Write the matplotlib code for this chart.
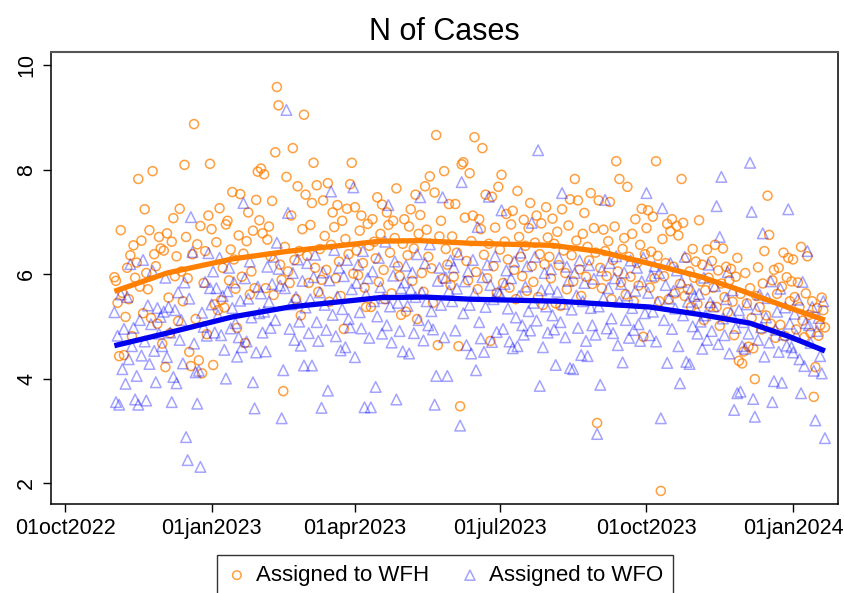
import matplotlib
matplotlib.use("Agg")
import matplotlib.pyplot as plt
import pandas as pd

plt.rcParams['font.family'] = ['Liberation Sans', 'DejaVu Sans']

# daily series, first day 01nov2022
start_day = "2022-11-01"

wfh = [
    # Nov 2022
    5.94, 5.87, 5.45, 4.43, 6.84, 5.64, 4.45, 5.18, 6.12, 5.52, 6.36, 4.81, 6.55, 5.93, 6.22, 7.82, 5.76, 6.64, 5.25, 7.24,
    6.02, 5.71, 6.84, 5.16, 7.97, 6.38, 6.15, 5.05, 6.71, 6.49,
    # Dec 2022
    4.67, 6.45, 4.22, 6.78, 5.55, 4.87, 6.62, 7.07, 5.96, 6.34, 5.10, 7.25, 6.05, 5.48, 8.09, 6.71, 5.92, 4.51, 4.24, 6.38,
    8.87, 5.14, 6.57, 4.35, 6.92, 4.10, 5.83, 6.44, 4.85, 7.12, 8.11,
    # Jan 2023
    6.86, 4.26, 5.42, 6.61, 5.31, 7.26, 5.50, 6.12, 5.36, 6.95, 7.02, 5.88, 6.47, 7.57, 6.28, 5.72, 4.97, 6.74, 7.53, 5.95,
    6.39, 4.68, 6.63, 7.18, 5.61, 6.05, 6.83, 5.73, 7.42, 7.96, 7.03,
    # Feb 2023
    8.02, 6.78, 7.91, 5.73, 6.66, 6.91, 6.34, 7.40, 5.60, 8.33, 9.58, 9.23, 6.18, 5.89, 3.76, 6.52, 7.86, 6.05, 5.83, 7.12,
    8.41, 6.27, 5.52, 7.68, 6.44, 5.21, 6.86, 9.05,
    # Mar 2023
    7.52, 6.35, 5.83, 6.94, 7.36, 8.13, 6.12, 7.70, 5.66, 6.48, 5.89, 7.41, 6.73, 6.08, 7.74, 5.47, 6.56, 7.18, 6.90, 5.92,
    7.32, 6.24, 5.58, 7.02, 4.95, 6.67, 7.25, 6.38, 7.72, 8.13, 6.01,
    # Apr 2023
    7.28, 6.45, 5.98, 6.83, 7.12, 6.21, 5.74, 5.37, 6.96, 6.54, 5.37, 7.05, 6.62, 6.30, 7.47, 5.85, 6.77, 7.33, 6.08, 5.52,
    7.18, 6.94, 6.41, 5.63, 7.02, 6.69, 7.64, 6.15, 5.96, 5.22,
    # May 2023
    6.58, 7.05, 5.28, 6.36, 6.91, 7.24, 5.87, 6.49, 7.52, 5.14, 6.77, 7.13, 6.02, 5.66, 7.68, 6.85, 6.33, 7.87, 6.11, 5.45,
    7.56, 8.66, 4.64, 6.72, 7.02, 5.91, 7.97, 6.48, 6.18, 7.34, 5.79,
    # Jun 2023
    6.72, 5.95, 7.34, 6.41, 4.62, 3.47, 8.10, 8.14, 7.08, 6.25, 5.88, 7.93, 6.63, 7.12, 8.62, 6.04, 5.71, 7.05, 6.86, 8.41,
    6.37, 7.52, 5.92, 6.58, 4.72, 7.48, 6.15, 6.89, 5.64, 7.67,
    # Jul 2023
    6.47, 7.90, 5.83, 6.62, 7.15, 6.28, 5.74, 6.95, 7.21, 6.08, 5.52, 7.59, 6.71, 6.33, 5.96, 7.04, 6.54, 5.68, 6.88, 7.36,
    6.15, 5.85, 6.60, 7.12, 5.56, 6.38, 6.97, 5.41, 6.19, 7.28, 6.70,
    # Aug 2023
    6.33, 5.92, 7.06, 6.58, 5.44, 6.81, 6.17, 5.39, 7.24, 6.45, 6.02, 5.71, 6.93, 7.43, 6.36, 5.86, 7.82, 6.64, 7.41, 6.09,
    5.58, 6.77, 7.17, 5.95, 6.52, 6.26, 7.55, 5.81, 6.88, 6.41, 3.15,
    # Sep 2023
    7.41, 6.12, 5.73, 6.85, 6.44, 5.96, 6.63, 7.38, 5.52, 6.27, 6.91, 8.16, 6.05, 7.82, 5.84, 6.48, 6.69, 5.61, 7.67, 6.33,
    5.95, 6.77, 5.48, 7.05, 6.21, 5.78, 6.56, 7.25, 4.80, 6.38,
    # Oct 2023
    6.88, 7.22, 5.74, 6.43, 7.10, 5.92, 8.16, 6.35, 5.48, 1.85, 6.67, 5.96, 6.21, 6.96, 5.52, 6.82, 7.05, 6.14, 5.63, 6.92,
    6.74, 5.81, 7.82, 6.98, 5.58, 6.31, 5.71, 6.05, 5.37, 6.48, 5.93,
    # Nov 2023
    6.24, 5.43, 7.03, 5.86, 6.18, 5.12, 5.69, 6.47, 5.93, 5.38, 6.25, 5.74, 6.56, 5.37, 6.07, 5.01, 5.82, 6.49, 5.56, 6.14,
    5.27, 5.88, 6.10, 5.47, 4.83, 5.95, 6.31, 4.34, 5.62, 4.29,
    # Dec 2023
    4.52, 6.02, 5.44, 4.61, 5.73, 5.16, 4.58, 3.99, 5.58, 6.13, 5.37, 4.94, 5.82, 6.44, 5.21, 7.50, 6.75, 5.05, 5.88, 6.08,
    4.78, 5.62, 6.12, 5.03, 5.76, 6.41, 4.81, 5.94, 6.31, 5.48, 5.86,
    # Jan 2024
    6.28, 5.56, 4.94, 5.84, 5.37, 6.52, 5.11, 4.79, 5.63, 6.34, 5.22, 4.87, 5.48, 3.65, 4.22, 5.35, 4.82, 5.02, 5.55, 5.31,
    4.98,
]

wfo = [
    # Nov 2022
    5.27, 3.55, 4.82, 3.50, 5.61, 4.18, 4.95, 3.90, 5.56, 4.37, 6.19, 4.62, 4.97, 3.60, 4.05, 3.50, 5.12, 4.44, 6.27, 4.71,
    3.58, 5.40, 4.28, 5.04, 6.06, 4.53, 3.93, 5.35, 4.86, 5.18,
    # Dec 2022
    4.62, 5.28, 5.93, 4.41, 5.37, 4.88, 3.55, 4.03, 5.31, 3.91, 5.65, 4.74, 5.12, 4.29, 5.84, 2.88, 2.44, 5.53, 7.09, 6.42,
    4.67, 4.12, 3.52, 4.15, 2.31, 5.26, 4.99, 5.85, 4.82, 6.40, 5.73,
    # Jan 2023
    5.42, 6.05, 4.88, 5.73, 5.21, 6.31, 4.83, 5.58, 4.55, 4.00, 5.67, 6.12, 4.96, 5.35, 5.84, 5.06, 4.42, 4.79, 5.49, 4.60,
    7.36, 5.92, 4.71, 5.53, 6.24, 5.17, 3.93, 3.43, 4.50, 5.76, 5.25,
    # Feb 2023
    5.63, 4.88, 5.28, 4.52, 6.14, 5.47, 4.97, 5.81, 6.33, 5.12, 6.60, 6.10, 5.78, 3.24, 4.16, 5.73, 9.14, 7.17, 4.95, 5.42,
    6.02, 4.74, 5.56, 6.28, 5.09, 4.63, 5.87, 4.25,
    # Mar 2023
    5.36, 6.21, 4.87, 5.52, 4.25, 5.94, 6.37, 5.08, 4.72, 5.65, 3.44, 6.03, 5.41, 4.93, 3.77, 5.88, 7.58, 5.22, 6.46, 4.81,
    5.57, 6.12, 4.54, 5.33, 5.96, 4.60, 6.27, 5.14, 4.98, 5.71, 7.66,
    # Apr 2023
    4.41, 5.83, 6.18, 5.27, 4.96, 6.44, 3.45, 5.61, 5.92, 4.78, 3.45, 6.05, 5.48, 3.84, 5.19, 6.31, 5.75, 4.86, 5.54, 6.62,
    5.02, 7.32, 5.38, 4.69, 5.97, 6.24, 3.60, 5.45, 4.91, 5.73,
    # May 2023
    4.52, 5.84, 6.16, 5.39, 4.48, 5.71, 6.03, 4.87, 5.56, 6.38, 5.12, 7.47, 5.65, 4.73, 6.21, 5.48, 5.02, 6.57, 5.29, 4.94,
    3.50, 4.05, 5.87, 6.12, 5.41, 7.47, 4.79, 5.93, 4.05, 5.68, 6.26,
    # Jun 2023
    5.48, 6.13, 4.92, 5.72, 6.38, 3.10, 7.76, 5.25, 5.86, 4.64, 6.05, 5.41, 4.48, 6.27, 5.63, 4.16, 6.90, 5.08, 4.77, 5.94,
    4.51, 5.37, 6.18, 7.48, 5.79, 4.70, 5.52, 6.34, 4.89, 5.66,
    # Jul 2023
    5.63, 7.22, 4.95, 5.81, 6.07, 5.34, 4.71, 5.92, 4.58, 6.24, 5.17, 4.62, 5.58, 6.41, 5.02, 4.84, 5.76, 6.15, 5.29, 4.92,
    6.98, 5.45, 6.33, 5.11, 8.37, 3.86, 5.69, 4.60, 6.02, 5.38, 4.88,
    # Aug 2023
    5.72, 6.09, 5.21, 4.94, 4.26, 5.66, 6.31, 5.08, 7.55, 5.43, 4.79, 6.14, 5.87, 4.20, 5.32, 4.18, 6.02, 5.59, 4.97, 6.26,
    4.45, 5.48, 5.83, 4.72, 4.43, 6.17, 5.35, 5.02, 5.91, 4.84, 2.94,
    # Sep 2023
    5.38, 3.88, 6.07, 5.54, 7.42, 4.96, 5.73, 6.21, 5.15, 4.87, 5.92, 6.34, 4.64, 5.47, 5.81, 4.31, 6.03, 5.12, 5.59, 4.78,
    6.26, 5.35, 4.93, 5.68, 6.12, 5.04, 4.72, 5.86, 6.31, 5.25,
    # Oct 2023
    7.55, 5.64, 4.83, 5.97, 5.28, 6.15, 4.71, 5.46, 6.02, 3.24, 7.26, 5.12, 5.79, 4.30, 5.53, 6.21, 4.95, 5.68, 5.34, 6.07,
    4.62, 3.91, 5.85, 5.21, 6.33, 4.32, 5.47, 4.28, 5.72, 5.00, 5.58,
    # Nov 2023
    5.34, 4.86, 5.62, 5.09, 4.57, 5.93, 5.21, 4.74, 6.18, 5.46, 4.91, 5.38, 5.77, 7.30, 4.66, 6.71, 7.86, 5.15, 4.83, 5.52,
    6.04, 4.48, 5.26, 5.69, 3.40, 4.97, 3.72, 5.31, 3.75, 4.62,
    # Dec 2023
    5.08, 4.57, 5.42, 4.86, 8.13, 7.19, 3.61, 3.27, 5.33, 4.74, 5.61, 4.98, 6.78, 4.42, 5.17, 5.54, 4.69, 5.86, 3.55, 3.95,
    4.93, 5.28, 4.51, 5.72, 3.92, 4.84, 5.36, 4.63, 7.24, 5.05, 4.60,
    # Jan 2024
    4.50, 5.24, 4.83, 5.51, 4.37, 3.72, 5.85, 4.24, 5.06, 6.44, 5.02, 4.68, 5.37, 4.15, 3.20, 4.91, 5.16, 4.43, 4.10, 5.48,
    2.86,
]

# smoothed trend
wfh_fit_dates = ["2022-11-01", "2022-12-04", "2023-01-14", "2023-02-19", "2023-04-17", "2023-05-12",
                 "2023-06-12", "2023-08-03", "2023-09-02", "2023-10-03", "2023-11-04", "2023-11-29",
                 "2023-12-30", "2024-01-21"]
wfh_fit = [5.67, 6.02, 6.29, 6.44, 6.63, 6.64, 6.59, 6.55, 6.43, 6.20, 5.95, 5.69, 5.35, 5.12]

wfo_fit_dates = ["2022-11-01", "2022-12-04", "2023-01-14", "2023-02-19", "2023-04-17", "2023-05-15",
                 "2023-06-12", "2023-08-07", "2023-10-03", "2023-11-07", "2023-12-05", "2023-12-30",
                 "2024-01-21"]
wfo_fit = [4.63, 4.87, 5.18, 5.37, 5.55, 5.56, 5.52, 5.48, 5.37, 5.21, 5.06, 4.80, 4.53]

tick_dates = ["2022-10-01", "2023-01-01", "2023-04-01", "2023-07-01", "2023-10-01", "2024-01-01"]
tick_labels = ["01oct2022", "01jan2023", "01apr2023", "01jul2023", "01oct2023", "01jan2024"]
y_ticks = [2, 4, 6, 8, 10]

wfh_dates = pd.date_range(start_day, periods=len(wfh), freq="D")
wfo_dates = pd.date_range(start_day, periods=len(wfo), freq="D")

fig = plt.figure(figsize=(8.45, 5.93), dpi=100)
ax = fig.add_axes([51 / 845, 89 / 593, 787 / 845, 452 / 593])

ax.scatter(wfh_dates, wfh, s=42, facecolors="none", edgecolors="#ff7f00", alpha=0.75,
           linewidths=1.1, label="Assigned to WFH", zorder=2)
ax.scatter(wfo_dates, wfo, s=58, marker="^", facecolors="none", edgecolors="#0000ff", alpha=0.36,
           linewidths=1.1, label="Assigned to WFO", zorder=2)

ax.plot(pd.to_datetime(wfh_fit_dates), wfh_fit, color="#ff7f00", lw=3.8, zorder=3,
        solid_capstyle="butt")
ax.plot(pd.to_datetime(wfo_fit_dates), wfo_fit, color="#0000ee", lw=3.8, zorder=3,
        solid_capstyle="butt")

ax.set_xlim(pd.Timestamp("2022-09-22 05:00"), pd.Timestamp("2024-01-29 05:00"))
ax.set_ylim(1.6, 10.25)

ax.set_xticks(pd.to_datetime(tick_dates))
ax.set_xticklabels(tick_labels, fontsize=15.5)
ax.set_yticks(y_ticks)
ax.set_yticklabels([str(v) for v in y_ticks], fontsize=15.5, rotation=90, va="center")
ax.tick_params(axis="both", direction="out", length=6, width=1, colors="black", pad=4)

for side in ["left", "bottom", "right"]:
    ax.spines[side].set_color("black")
    ax.spines[side].set_linewidth(1.1)
ax.spines["top"].set_color("#555555")
ax.spines["top"].set_linewidth(1.5)

ax.set_title("N of Cases", fontsize=22, pad=9)

leg = fig.legend(loc="upper center", bbox_to_anchor=(0.5266, 38 / 593), ncol=2,
                 frameon=True, fancybox=False, edgecolor="black", fontsize=16,
                 markerscale=0.95, handletextpad=0.4, columnspacing=1.4,
                 borderpad=0.45, handlelength=0.9, borderaxespad=0)
leg.get_frame().set_linewidth(1.0)

fig.savefig("out.png", dpi=100)
